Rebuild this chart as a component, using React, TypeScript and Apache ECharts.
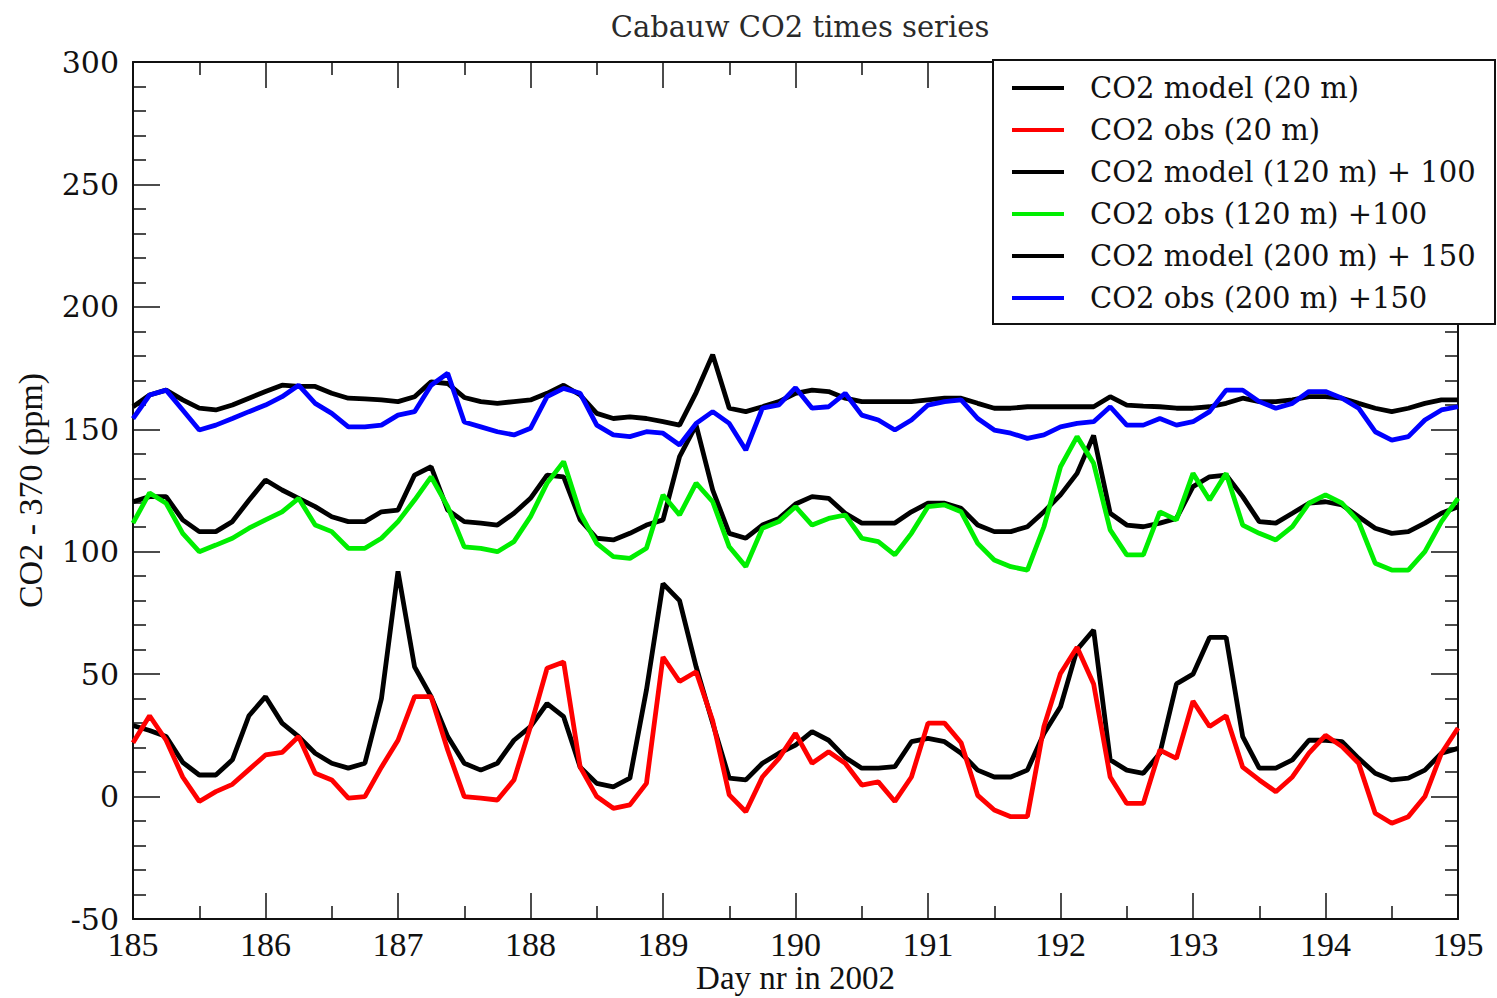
import React, { useEffect, useRef } from "react";
import * as echarts from "echarts";

// Time axis: 3-hourly samples from day 185 to day 195 of 2002
const DAYS: number[] = Array.from({ length: 81 }, (_, i) => 185 + i / 8);

const X_TICKS = { min: 185, max: 195, interval: 1 };
const Y_TICKS = { min: -50, max: 300, interval: 50 };

const SERIES_NAMES = [
  "CO2 model (20 m)",
  "CO2 obs (20 m)",
  "CO2 model (120 m) + 100",
  "CO2 obs (120 m) +100",
  "CO2 model (200 m) + 150",
  "CO2 obs (200 m) +150",
];

const MODEL_20 = [
  29, 27, 24.5, 14, 8.8, 8.8, 15, 33, 40.8, 30, 24.5, 17.7, 13.6, 11.6, 13.6, 40,
  92, 53, 40.8, 24.5, 13.6, 10.8, 13.6, 23, 28.6, 38, 32.6, 12, 5.4, 4, 7.5, 43.5,
  87, 80, 53, 30, 7.5, 6.8, 13.6, 17.7, 21, 26.5, 23, 16, 11.6, 11.6, 12.2, 22.4,
  23.8, 22.4, 17.7, 10.8, 8, 8, 10.8, 25.8, 36.7, 60, 68, 15, 10.8, 9.5, 17.7, 46,
  50, 65, 65, 24.5, 11.6, 11.6, 15, 23, 23, 22.4, 15.6, 9.5, 6.8, 7.5, 10.8, 17.7,
  19.7,
];

const OBS_20 = [
  22, 33, 23, 8, -2, 2, 5, 11, 17, 18, 24.5, 9.5, 6.8, -0.6, 0, 12,
  23, 40.8, 40.8, 19, 0, -0.6, -1.4, 6.8, 28.6, 52.4, 55, 12, 0, -4.8, -3.4, 5.4,
  57, 47, 51, 31, 0.7, -6.2, 8, 15.6, 25.8, 13.6, 18.3, 13.6, 4.7, 6, -2, 8,
  30, 30, 22, 0.5, -5.5, -8.2, -8.2, 28.6, 50.3, 61, 46, 8, -2.8, -2.8, 19, 15.6,
  39, 28.6, 33, 12, 6.8, 2, 8, 17.7, 25, 20.4, 13.6, -6.8, -10.9, -8.2, 0, 17.7,
  28,
];

const MODEL_120 = [
  120.4, 122.5, 122.5, 113, 108.2, 108.2, 112.3, 121, 129.3, 125.2, 121.8, 118.4, 114.3, 112.3, 112.3, 116.3,
  117, 131.3, 134.7, 117, 112.3, 111.7, 110.9, 115.7, 121.8, 131.3, 130.6, 113, 105.5, 104.8, 107.5, 110.9,
  113, 138.8, 151.7, 125.2, 107.5, 105.5, 110.9, 113.6, 119.5, 122.5, 121.8, 115.7, 111.7, 111.7, 111.7, 116.3,
  119.8, 119.8, 117.7, 110.9, 108.2, 108.2, 110.2, 116.3, 123.2, 132, 147.5, 115.7, 110.9, 110.2, 111.7, 113.6,
  126.6, 130.6, 131.3, 122.5, 112.3, 111.7, 115.7, 119.8, 120.4, 119.1, 114.3, 109.6, 107.5, 108.2, 111.7, 115.7,
  118.4,
];

const OBS_120 = [
  111.7, 124, 119.8, 107.5, 100, 102.7, 105.5, 109.6, 113, 116.3, 121.8, 110.9, 108.2, 101.4, 101.4, 105.5,
  112.3, 121.1, 130.6, 118.4, 102, 101.4, 100, 104.1, 114.3, 128, 136.8, 115.7, 103.4, 98, 97.3, 101.4,
  123.2, 115, 128, 120.4, 102, 93.9, 109.6, 112.3, 118.4, 110.9, 113.6, 115, 105.5, 104.1, 98.7, 107.5,
  118.4, 119.1, 116.3, 103.4, 96.6, 93.9, 92.5, 110.2, 134.7, 147, 136.1, 108.9, 98.7, 98.7, 116.3, 113,
  132, 121.1, 132, 110.9, 107.5, 104.8, 110.2, 119.8, 123.2, 119.8, 112.3, 95.3, 92.5, 92.5, 100, 112.3,
  121.8,
];

const MODEL_200 = [
  159.2, 164, 166, 162, 158.6, 157.9, 159.9, 162.7, 165.4, 168, 167.5, 167.5, 164.7, 162.7, 162.4, 162,
  161.3, 163.3, 169.4, 168.7, 163, 161.3, 160.6, 161.3, 162, 164.7, 168, 164, 156.5, 154.4, 155.1, 154.4,
  153.1, 151.7, 165, 180.5, 158.6, 157.2, 159.2, 161.3, 164.7, 166, 165.4, 162.7, 161.3, 161.3, 161.3, 161.3,
  162, 162.7, 162.7, 160.6, 158.6, 158.6, 159.2, 159.2, 159.2, 159.2, 159.2, 163.3, 159.9, 159.5, 159.2, 158.6,
  158.6, 159.2, 160.6, 162.7, 161.3, 161.3, 162, 163.3, 163.3, 162.7, 160.6, 158.6, 157.2, 158.6, 160.6, 162,
  162,
];

const OBS_200 = [
  154.4, 164, 166, 157.9, 149.7, 151.7, 154.4, 157.2, 159.9, 163.3, 168, 160.6, 156.5, 151, 151, 151.7,
  155.8, 157.2, 168, 172.9, 153, 151, 149, 147.7, 150.4, 163.3, 166.7, 164.7, 151.7, 147.7, 147, 149,
  148.4, 143.6, 152.4, 157.2, 152.4, 141.5, 158.6, 160, 167, 158.6, 159.2, 164.7, 155.8, 153.8, 149.7, 153.8,
  159.9, 161.3, 162, 154.4, 149.7, 148.4, 146.3, 147.7, 151, 152.4, 153.1, 159.2, 151.7, 151.7, 154.4, 151.7,
  153.1, 157.2, 166, 166, 161.3, 158.6, 160.6, 165.4, 165.4, 162.7, 158.6, 149, 145.6, 147, 153.8, 157.9,
  159.2,
];

const SERIES_VALUES = [MODEL_20, OBS_20, MODEL_120, OBS_120, MODEL_200, OBS_200];
const SERIES_COLORS = ["#000000", "#ff0000", "#000000", "#00ee00", "#000000", "#0000ff"];

const WIDE_SERIF = "'DejaVu Serif', 'Liberation Serif', serif";
const NARROW_SERIF = "'Liberation Serif', 'DejaVu Serif', serif";
const INK = "#111111";

export default function App() {
  const ref = useRef<HTMLDivElement>(null);

  useEffect(() => {
    if (!ref.current) return;
    const chart = echarts.init(ref.current, undefined, { renderer: "svg" });

    const axisLine = { show: true, onZero: false, lineStyle: { color: INK, width: 2 } };
    const majorTick = (len: number) => ({
      show: true,
      inside: true,
      length: len,
      lineStyle: { color: INK, width: 1.5 },
    });
    const minorTick = (split: number) => ({
      show: true,
      splitNumber: split,
      length: 13,
      lineStyle: { color: INK, width: 1.5 },
    });

    const xBase = {
      type: "value" as const,
      min: X_TICKS.min,
      max: X_TICKS.max,
      interval: X_TICKS.interval,
      splitLine: { show: false },
      axisLine,
      axisTick: majorTick(26),
      minorTick: minorTick(2),
    };
    const yBase = {
      type: "value" as const,
      min: Y_TICKS.min,
      max: Y_TICKS.max,
      interval: Y_TICKS.interval,
      splitLine: { show: false },
      axisLine,
      axisTick: majorTick(27),
      minorTick: minorTick(5),
    };

    chart.setOption({
      animation: false,
      backgroundColor: "#ffffff",
      title: {
        text: "Cabauw CO2 times series",
        left: 795,
        textAlign: "center",
        top: 7,
        textStyle: { fontFamily: WIDE_SERIF, fontSize: 29, fontWeight: "normal", color: "#2a2a2a" },
      },
      grid: {
        left: 133,
        right: 39,
        top: 62,
        bottom: 79,
        containLabel: false,
        outerBoundsMode: "none",
      },
      xAxis: [
        {
          ...xBase,
          position: "bottom",
          name: "Day nr in 2002",
          nameLocation: "middle",
          nameGap: 42,
          nameMoveOverlap: false,
          nameTextStyle: { fontFamily: NARROW_SERIF, fontSize: 33, color: INK },
          axisLabel: {
            show: true,
            margin: 8,
            fontFamily: NARROW_SERIF,
            fontSize: 34,
            color: INK,
            formatter: (v: number) => String(v),
          },
        },
        { ...xBase, position: "top", axisLabel: { show: false } },
      ],
      yAxis: [
        {
          ...yBase,
          position: "left",
          name: "CO2 - 370 (ppm)",
          nameLocation: "middle",
          nameGap: 86,
          nameMoveOverlap: false,
          nameTextStyle: { fontFamily: NARROW_SERIF, fontSize: 34, color: INK },
          axisLabel: {
            show: true,
            margin: 14,
            fontFamily: WIDE_SERIF,
            fontSize: 30,
            color: INK,
          },
        },
        { ...yBase, position: "right", axisLabel: { show: false } },
      ],
      legend: {
        orient: "vertical",
        left: 1012,
        top: 72,
        padding: 0,
        itemGap: 10,
        itemWidth: 52,
        itemHeight: 4,
        icon: "rect",
        z: 12,
        data: SERIES_NAMES,
        textStyle: {
          fontFamily: WIDE_SERIF,
          fontSize: 29,
          lineHeight: 32,
          color: INK,
          padding: [0, 0, 0, 21],
        },
      },
      graphic: [
        {
          type: "rect",
          z: 10,
          shape: { x: 993, y: 60, width: 502, height: 264 },
          style: { fill: "#ffffff", stroke: INK, lineWidth: 2 },
        },
      ],
      series: SERIES_NAMES.map((name, k) => ({
        name,
        type: "line",
        xAxisIndex: 0,
        yAxisIndex: 0,
        showSymbol: false,
        symbol: "none",
        color: SERIES_COLORS[k],
        lineStyle: { color: SERIES_COLORS[k], width: 4.8 },
        data: DAYS.map((d, i) => [d, SERIES_VALUES[k][i]]),
      })),
    });

    return () => chart.dispose();
  }, []);

  return (
    <div
      ref={ref}
      style={{ position: "fixed", left: 0, top: 0, width: 1497, height: 998, background: "#fff" }}
    />
  );
}
